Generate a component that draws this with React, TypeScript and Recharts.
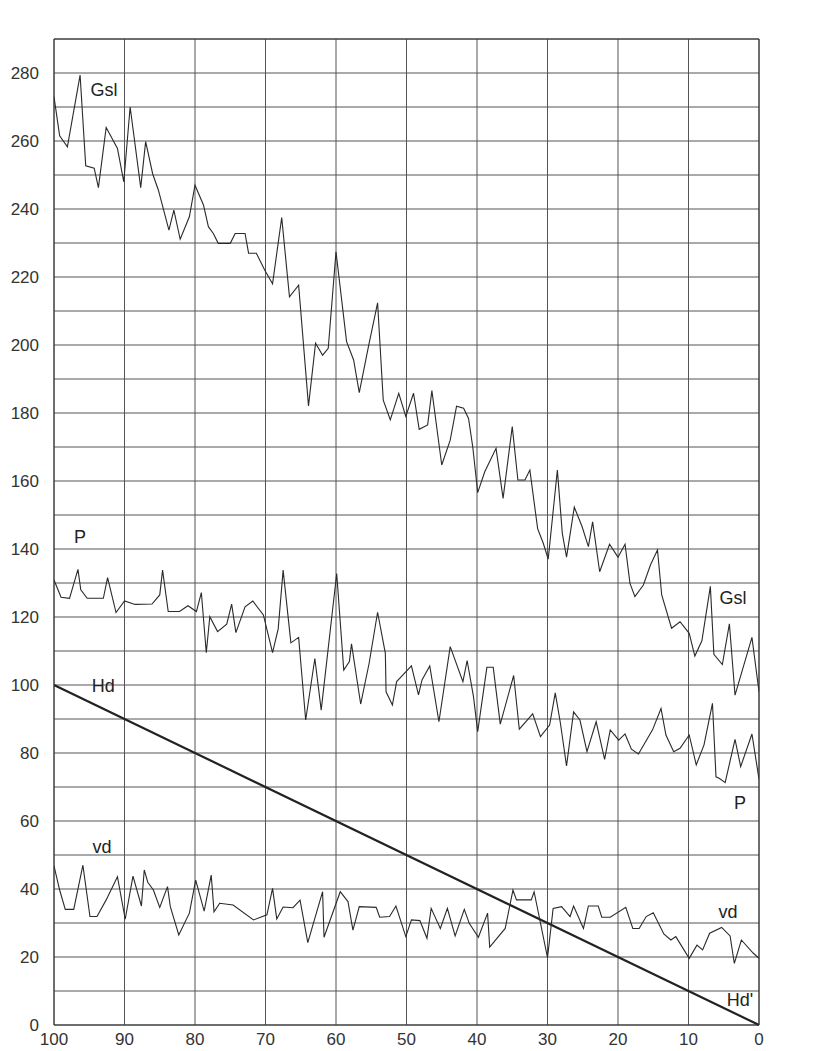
import React from 'react';
import { LineChart, Line, XAxis, YAxis, CartesianGrid, ReferenceDot } from 'recharts';

// [x, value] pairs (x axis runs 100 -> 0)
const gsl: Array<[number, number]> = [
  [100, 273], [99.2, 261.5], [98.1, 258.3], [96.3, 279.4], [95.5, 252.7], [94.3, 252], [93.7, 246.3],
  [92.6, 264], [91.0, 257.8], [90.1, 248], [89.2, 270], [87.7, 246.3], [87.0, 259.8], [86.0, 250.3],
  [85.2, 245.6], [83.7, 233.8], [83.0, 239.7], [82.1, 231.1], [80.8, 237.7], [80.0, 247], [78.8, 241.2],
  [78.1, 234.8], [77.4, 232.8], [76.7, 229.9], [75.0, 229.9], [74.3, 232.8], [72.9, 232.8], [72.4, 227],
  [71.3, 227], [70.1, 222], [69.0, 218], [67.7, 237.5], [67.0, 222.6], [66.6, 214.2], [65.3, 217.6],
  [63.9, 182.1], [62.9, 200.5], [61.9, 197], [61.1, 199], [60.0, 227.4], [58.5, 201], [57.5, 195.6],
  [56.7, 186], [55.4, 199.5], [54.1, 212.4], [53.3, 183.8], [52.3, 178], [51.1, 185.8], [50.1, 179],
  [49.0, 185.8], [48.2, 175.2], [47.0, 176.5], [46.4, 186.6], [45.0, 164.7], [43.8, 172], [42.9, 182],
  [41.9, 181.4], [41.2, 178.4], [40.6, 170], [39.9, 156.6], [38.9, 162.7], [37.3, 169.6], [36.3, 154.9],
  [35.0, 176], [34.2, 160.3], [33.2, 160.3], [32.5, 163.2], [31.4, 146], [30.6, 141.7], [29.9, 137],
  [28.6, 163.2], [27.9, 144.6], [27.3, 137.6], [26.2, 152.3], [25.1, 146.6], [24.2, 140.7], [23.6, 148],
  [22.6, 133.3], [21.2, 141.4], [20.0, 137.6], [19.0, 141.4], [18.3, 129.9], [17.6, 126], [16.4, 129.4],
  [15.4, 135.3], [14.4, 139.7], [13.8, 126.5], [12.4, 116.7], [11.2, 118.6], [9.9, 115.2], [9.1, 108.5],
  [8.1, 113], [6.9, 129], [6.4, 109], [5.2, 106], [4.2, 118], [3.4, 97], [1.0, 114], [0, 98],
];

const p: Array<[number, number]> = [
  [100, 130.9], [99.0, 125.8], [97.8, 125.5], [96.6, 134], [96.2, 128], [95.3, 125.5], [93.0, 125.5],
  [92.4, 131.6], [91.2, 121.3], [90.0, 124.7], [88.5, 123.7], [86.1, 123.8], [85.0, 126.5], [84.6, 133.8],
  [83.8, 121.6], [82.2, 121.6], [81.0, 123.3], [79.8, 121.6], [79.1, 127.2], [78.4, 109.5], [77.9, 120.1],
  [76.8, 115.7], [75.5, 117.9], [74.8, 123.8], [74.2, 115.4], [72.9, 123], [71.8, 124.7], [70.3, 120.6],
  [69.0, 109.5], [68.2, 116.5], [67.5, 133.8], [66.4, 112.4], [65.3, 114], [64.3, 89.7], [63.0, 107.8],
  [62.1, 92.6], [59.9, 132.8], [58.9, 104.4], [58.1, 106.9], [57.8, 112.1], [56.5, 94.4], [55.3, 106.4],
  [54.1, 121.4], [53.0, 109.3], [52.9, 98], [52.0, 94.1], [51.4, 101], [49.3, 105.6], [48.3, 97.1],
  [47.8, 101.5], [46.7, 105.6], [45.4, 89.2], [43.8, 111.3], [42.0, 101], [41.4, 107.2], [40.5, 96.6],
  [39.9, 86.3], [38.6, 105.2], [37.7, 105.2], [36.7, 88.5], [34.8, 102.8], [34.0, 87], [32.1, 91.5],
  [31.0, 84.8], [29.7, 88.2], [28.9, 97.7], [28.2, 89.2], [27.3, 76.2], [26.3, 92.1], [25.4, 89.7],
  [24.4, 80.4], [23.1, 89.2], [21.9, 78.1], [21.1, 86.8], [19.9, 83.8], [19.0, 85.6], [18.1, 81.1],
  [17.1, 79.7], [15.1, 86.8], [13.9, 93.1], [13.2, 85.3], [12.1, 80.4], [11.2, 81.4], [9.9, 85.3],
  [8.9, 76.5], [7.8, 82.4], [6.6, 94.6], [6.1, 73], [5.6, 72.5], [4.8, 71.3], [3.4, 84], [2.6, 76],
  [1.0, 85.6], [0, 72.3],
];

const vd: Array<[number, number]> = [
  [100, 46.8], [99.2, 39.7], [98.4, 34], [97.2, 34], [95.9, 47], [94.9, 31.9], [93.9, 31.9], [92.6, 36.8],
  [91.0, 43.6], [89.9, 31.1], [88.8, 43.8], [87.6, 35], [87.2, 45.6], [86.7, 42], [85.9, 39.7], [85.0, 34.6],
  [83.9, 40.7], [83.5, 34.8], [82.3, 26.5], [80.8, 32.9], [79.9, 42.6], [78.7, 33.5], [77.7, 44.1],
  [77.3, 33.3], [76.5, 35.8], [74.6, 35.3], [71.7, 30.9], [69.8, 32.4], [69.0, 40.2], [68.4, 31.2],
  [67.5, 34.7], [66.1, 34.5], [65.1, 36.7], [64.0, 24.2], [61.9, 39.2], [61.7, 25.8], [59.4, 39.2],
  [58.3, 36.3], [57.6, 27.9], [56.7, 34.8], [54.3, 34.6], [53.8, 31.7], [52.4, 31.9], [51.5, 35],
  [50.1, 26], [49.3, 30.9], [48.1, 30.7], [47.1, 25.5], [46.5, 34.3], [45.2, 28.4], [44.2, 34.3],
  [43.1, 26.2], [41.8, 34], [41.1, 29.9], [39.8, 25.8], [38.5, 32.9], [38.2, 22.9], [36.0, 28.4],
  [34.9, 39.7], [34.4, 36.8], [32.3, 36.8], [31.9, 39.2], [30.0, 19.8], [29.2, 34.3], [28.0, 34.8],
  [26.8, 31.9], [26.3, 35], [24.9, 28.4], [24.2, 35], [22.8, 35], [22.3, 31.7], [21.1, 31.7], [18.9, 34.6],
  [17.9, 28.4], [17.0, 28.4], [16.0, 31.9], [15.0, 33], [13.5, 26.8], [12.5, 25], [11.8, 26], [9.9, 19.6],
  [8.8, 23.5], [8.0, 22.1], [7.0, 27], [5.3, 28.7], [4.1, 26.2], [3.5, 18.1], [2.5, 25], [0.8, 21.1],
  [0, 19.6],
];

const hd: Array<[number, number]> = [[100, 100], [0, 0]];

const xTicks = [0, 10, 20, 30, 40, 50, 60, 70, 80, 90, 100];
const yTicks = [0, 10, 20, 30, 40, 50, 60, 70, 80, 90, 100, 110, 120, 130, 140, 150, 160, 170, 180, 190, 200, 210, 220, 230, 240, 250, 260, 270, 280, 290];

// curve names written on the plot, at [x, value]
const curveLabels: Array<{ text: string; x: number; y: number }> = [
  { text: 'Gsl', x: 92.9, y: 275 },
  { text: 'Gsl', x: 3.7, y: 125.7 },
  { text: 'P', x: 96.3, y: 143.6 },
  { text: 'P', x: 2.7, y: 65.3 },
  { text: 'Hd', x: 93.0, y: 99.8 },
  { text: "Hd'", x: 2.7, y: 7.4 },
  { text: 'vd', x: 93.2, y: 52.5 },
  { text: 'vd', x: 4.4, y: 33.3 },
];

const toRows = (pts: Array<[number, number]>) => pts.map(([x, y]) => ({ x, y }));

const tickStyle = { fontSize: 17, fill: '#333', fontFamily: 'Liberation Sans' };
const ink = '#333';

const App = () => {
  return (
    <div style={{ position: 'absolute', left: 0, top: 0, background: '#fff' }}>
      <LineChart width={823} height={1051} margin={{ top: 0, right: 0, bottom: 0, left: 0 }}>
        <CartesianGrid xAxisId="bottom" yAxisId="left" stroke="#555" strokeWidth={1} />
        <XAxis
          xAxisId="bottom"
          dataKey="x"
          type="number"
          domain={[0, 100]}
          reversed
          ticks={xTicks}
          height={26}
          tickSize={0}
          tickMargin={8}
          tick={tickStyle}
          axisLine={{ stroke: ink }}
          tickLine={false}
          allowDataOverflow
        />
        <XAxis
          xAxisId="top"
          orientation="top"
          dataKey="x"
          type="number"
          domain={[0, 100]}
          reversed
          ticks={xTicks}
          tickFormatter={(v: number) => (v === 100 ? '' : String(v))}
          height={39}
          tickSize={0}
          tickMargin={13}
          tick={tickStyle}
          axisLine={{ stroke: ink }}
          tickLine={false}
        />
        <YAxis
          yAxisId="left"
          type="number"
          domain={[0, 290]}
          ticks={yTicks}
          tickFormatter={(v: number) => (v % 20 === 0 ? String(v) : '')}
          width={54}
          tickSize={0}
          tickMargin={15}
          tick={tickStyle}
          axisLine={{ stroke: ink }}
          tickLine={false}
          interval={0}
        />
        <YAxis
          yAxisId="right"
          orientation="right"
          type="number"
          domain={[0, 290]}
          ticks={yTicks}
          tickFormatter={(v: number) => (v % 20 === 0 ? String(v) : '')}
          width={64}
          tickSize={0}
          tickMargin={19}
          tick={tickStyle}
          axisLine={{ stroke: ink }}
          tickLine={false}
          interval={0}
        />
        <Line xAxisId="bottom" yAxisId="left" data={toRows(hd)} dataKey="y" type="linear" stroke="#222" strokeWidth={2.2} dot={false} isAnimationActive={false} />
        <Line xAxisId="bottom" yAxisId="left" data={toRows(gsl)} dataKey="y" type="linear" stroke="#2a2a2a" strokeWidth={1.1} dot={false} isAnimationActive={false} />
        <Line xAxisId="bottom" yAxisId="left" data={toRows(p)} dataKey="y" type="linear" stroke="#2a2a2a" strokeWidth={1.1} dot={false} isAnimationActive={false} />
        <Line xAxisId="bottom" yAxisId="left" data={toRows(vd)} dataKey="y" type="linear" stroke="#2a2a2a" strokeWidth={1.1} dot={false} isAnimationActive={false} />
        {curveLabels.map((l, i) => (
          <ReferenceDot
            key={i}
            xAxisId="bottom"
            yAxisId="left"
            x={l.x}
            y={l.y}
            r={0}
            fill="none"
            stroke="none"
            label={{ value: l.text, position: 'center', fontSize: 18, fill: '#222', fontFamily: 'Liberation Sans' }}
          />
        ))}
      </LineChart>
    </div>
  );
};

export default App;
